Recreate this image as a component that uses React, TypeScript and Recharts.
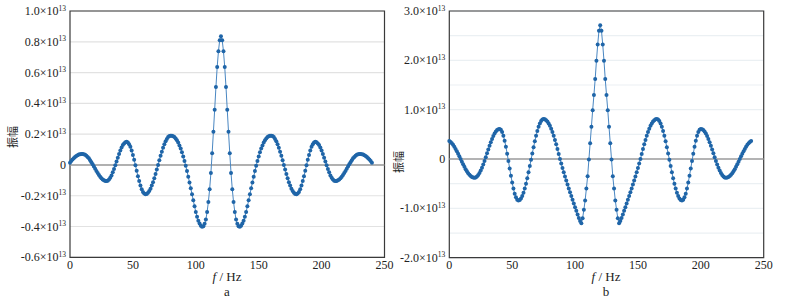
import React from 'react';
import {
  LineChart,
  Line,
  XAxis,
  YAxis,
  CartesianGrid,
  ReferenceLine,
  ReferenceArea,
} from 'recharts';

// spectra sampled every 1 Hz from 0 to 240 Hz, amplitude in units of 1e13
const FREQ_STEP_HZ = 1;
const freqTicks = [0, 50, 100, 150, 200, 250];
const ampTicksA = [-0.6, -0.4, -0.2, 0, 0.2, 0.4, 0.6, 0.8, 1.0];
const ampTicksB = [-2, -1.5, -1, -0.5, 0, 0.5, 1, 1.5, 2, 2.5, 3];
const ampLabelsB = [-2, -1, 0, 1, 2, 3];

const ampA = [
  0.015, 0.025, 0.035, 0.044, 0.052, 0.058, 0.063, 0.067, 0.069, 0.071,
  0.071, 0.070, 0.066, 0.060, 0.052, 0.043, 0.031, 0.018, 0.005, -0.010,
  -0.024, -0.039, -0.052, -0.065, -0.077, -0.086, -0.094, -0.100, -0.104, -0.105,
  -0.103, -0.095, -0.084, -0.068, -0.048, -0.026, -0.002, 0.023, 0.047, 0.071,
  0.093, 0.113, 0.129, 0.140, 0.148, 0.150, 0.146, 0.135, 0.118, 0.094,
  0.065, 0.033, -0.002, -0.038, -0.073, -0.105, -0.134, -0.158, -0.175, -0.186,
  -0.190, -0.188, -0.181, -0.169, -0.154, -0.134, -0.112, -0.086, -0.059, -0.030,
  0.000, 0.030, 0.059, 0.086, 0.112, 0.134, 0.154, 0.169, 0.181, 0.188,
  0.190, 0.190, 0.187, 0.181, 0.172, 0.160, 0.145, 0.127, 0.106, 0.082,
  0.055, 0.026, -0.005, -0.040, -0.077, -0.114, -0.152, -0.190, -0.230, -0.268,
  -0.305, -0.337, -0.362, -0.381, -0.395, -0.402, -0.398, -0.382, -0.355, -0.305,
  -0.240, -0.158, -0.052, 0.076, 0.215, 0.358, 0.506, 0.636, 0.738, 0.810,
  0.836,
  0.810, 0.738, 0.636, 0.506, 0.358, 0.215, 0.076, -0.052, -0.158, -0.240,
  -0.305, -0.355, -0.382, -0.398, -0.402, -0.395, -0.381, -0.362, -0.337, -0.305,
  -0.268, -0.230, -0.190, -0.152, -0.114, -0.077, -0.040, -0.005, 0.026, 0.055,
  0.082, 0.106, 0.127, 0.145, 0.160, 0.172, 0.181, 0.187, 0.190, 0.190,
  0.188, 0.181, 0.169, 0.154, 0.134, 0.112, 0.086, 0.059, 0.030, 0.000,
  -0.030, -0.059, -0.086, -0.112, -0.134, -0.154, -0.169, -0.181, -0.188, -0.190,
  -0.186, -0.175, -0.158, -0.134, -0.105, -0.073, -0.038, -0.002, 0.033, 0.065,
  0.094, 0.118, 0.135, 0.146, 0.150, 0.148, 0.140, 0.129, 0.113, 0.093,
  0.071, 0.047, 0.023, -0.002, -0.026, -0.048, -0.068, -0.084, -0.095, -0.103,
  -0.105, -0.104, -0.100, -0.094, -0.086, -0.077, -0.065, -0.052, -0.039, -0.024,
  -0.010, 0.005, 0.018, 0.031, 0.043, 0.052, 0.060, 0.066, 0.070, 0.071,
  0.071, 0.069, 0.067, 0.063, 0.058, 0.052, 0.044, 0.035, 0.025, 0.015,
];

const ampB = [
  0.365, 0.346, 0.320, 0.287, 0.249, 0.205, 0.158, 0.107, 0.054, 0.000,
  -0.054, -0.107, -0.158, -0.205, -0.249, -0.287, -0.320, -0.346, -0.365, -0.377,
  -0.380, -0.374, -0.356, -0.326, -0.285, -0.235, -0.176, -0.110, -0.038, 0.038,
  0.115, 0.192, 0.268, 0.340, 0.406, 0.465, 0.515, 0.556, 0.586, 0.604,
  0.610, 0.594, 0.547, 0.472, 0.370, 0.248, 0.109, -0.039, -0.191, -0.339,
  -0.478, -0.600, -0.702, -0.777, -0.824, -0.840, -0.830, -0.800, -0.750, -0.682,
  -0.598, -0.500, -0.390, -0.270, -0.144, -0.015, 0.114, 0.240, 0.360, 0.470,
  0.568, 0.652, 0.720, 0.770, 0.800, 0.810, 0.805, 0.788, 0.760, 0.722,
  0.673, 0.614, 0.546, 0.470, 0.387, 0.298, 0.203, 0.103, 0.000, -0.090,
  -0.180, -0.268, -0.354, -0.437, -0.518, -0.597, -0.674, -0.750, -0.825, -0.900,
  -0.975, -1.050, -1.125, -1.195, -1.255, -1.300, -1.200, -1.030, -0.840, -0.600,
  -0.350, -0.010, 0.320, 0.655, 0.990, 1.300, 1.620, 1.990, 2.320, 2.600,
  2.710,
  2.600, 2.320, 1.990, 1.620, 1.300, 0.990, 0.655, 0.320, -0.010, -0.350,
  -0.600, -0.840, -1.030, -1.200, -1.300, -1.255, -1.195, -1.125, -1.050, -0.975,
  -0.900, -0.825, -0.750, -0.674, -0.597, -0.518, -0.437, -0.354, -0.268, -0.180,
  -0.090, 0.000, 0.103, 0.203, 0.298, 0.387, 0.470, 0.546, 0.614, 0.673,
  0.722, 0.760, 0.788, 0.805, 0.810, 0.800, 0.770, 0.720, 0.652, 0.568,
  0.470, 0.360, 0.240, 0.114, -0.015, -0.144, -0.270, -0.390, -0.500, -0.598,
  -0.682, -0.750, -0.800, -0.830, -0.840, -0.824, -0.777, -0.702, -0.600, -0.478,
  -0.339, -0.191, -0.039, 0.109, 0.248, 0.370, 0.472, 0.547, 0.594, 0.610,
  0.604, 0.586, 0.556, 0.515, 0.465, 0.406, 0.340, 0.268, 0.192, 0.115,
  0.038, -0.038, -0.110, -0.176, -0.235, -0.285, -0.326, -0.356, -0.374, -0.380,
  -0.377, -0.365, -0.346, -0.320, -0.287, -0.249, -0.205, -0.158, -0.107, -0.054,
  0.000, 0.054, 0.107, 0.158, 0.205, 0.249, 0.287, 0.320, 0.346, 0.365,
];

const serif = { fontFamily: 'Liberation Serif, serif' };
const cjk = { fontFamily: 'Noto Sans CJK SC, sans-serif' };
const LINE_COLOR = '#4a87c2';
const DOT_COLOR = '#1f65a8';

const toRows = (values: number[]) => values.map((v, i) => ({ f: i * FREQ_STEP_HZ, amp: v }));

function YTick({ x, y, payload, labeled }: any) {
  const v = payload.value as number;
  if (labeled && !labeled.some((t: number) => Math.abs(t - v) < 1e-6)) return <g />;
  if (Math.abs(v) < 1e-9) {
    return (
      <text x={x} y={y + 4} textAnchor="end" style={serif} fontSize={12} fill="#222">
        0
      </text>
    );
  }
  return (
    <text x={x} y={y + 4} textAnchor="end" style={serif} fontSize={12} fill="#222">
      {v.toFixed(1)}×10
      <tspan dy={-4.5} fontSize={7.5}>
        13
      </tspan>
    </text>
  );
}

function XTick({ x, y, payload }: any) {
  return (
    <text x={x} y={y + 11.5} textAnchor="middle" style={serif} fontSize={12} fill="#222">
      {payload.value}
    </text>
  );
}

type PanelProps = {
  values: number[];
  yTicks: number[];
  yLabels?: number[];
  gridColor: string;
  margin: { top: number; right: number; bottom: number; left: number };
  left: number;
};

function Panel({ values, yTicks, yLabels, gridColor, margin, left }: PanelProps) {
  const yMin = yTicks[0];
  const yMax = yTicks[yTicks.length - 1];
  return (
    <div style={{ position: 'absolute', left, top: 0 }}>
      <LineChart width={400} height={301} data={toRows(values)} margin={margin}>
        <CartesianGrid vertical={false} stroke={gridColor} strokeWidth={1.2} />
        <XAxis
          dataKey="f"
          type="number"
          domain={[0, 250]}
          ticks={freqTicks}
          height={20}
          axisLine={false}
          tickLine={false}
          tickSize={0}
          tickMargin={0}
          tick={<XTick />}
        />
        <YAxis
          type="number"
          domain={[yMin, yMax]}
          ticks={yTicks}
          width={62}
          axisLine={false}
          tickLine={false}
          tickSize={0}
          tickMargin={4}
          interval={0}
          tick={<YTick labeled={yLabels} />}
        />
        <ReferenceLine y={0} stroke="#9c9c9c" strokeWidth={1.5} />
        <ReferenceArea x1={0} x2={250} y1={yMin} y2={yMax} fill="none" stroke="#3a3a3a" strokeWidth={1.2} />
        <Line
          type="linear"
          dataKey="amp"
          stroke={LINE_COLOR}
          strokeWidth={1}
          dot={{ r: 2, fill: DOT_COLOR, stroke: DOT_COLOR, strokeWidth: 0 }}
          isAnimationActive={false}
        />
      </LineChart>
    </div>
  );
}

export default function App() {
  return (
    <div style={{ position: 'absolute', left: 0, top: 0, width: 797, height: 301, background: '#fff' }}>
      <Panel
        values={ampA}
        yTicks={ampTicksA}
        gridColor="#e2e2e2"
        margin={{ top: 11, right: 15.5, bottom: 23.7, left: 8 }}
        left={0}
      />
      <Panel
        values={ampB}
        yTicks={ampTicksB}
        yLabels={ampLabelsB}
        gridColor="#ebf0f3"
        margin={{ top: 11, right: 16.3, bottom: 23.3, left: 7.3 }}
        left={380}
      />
      <svg
        width={797}
        height={301}
        style={{ position: 'absolute', left: 0, top: 0, pointerEvents: 'none' }}
      >
        <text transform="translate(17,137) rotate(-90)" textAnchor="middle" style={cjk} fontSize={11} fill="#222">
          振幅
        </text>
        <text transform="translate(403,162) rotate(-90)" textAnchor="middle" style={cjk} fontSize={11} fill="#222">
          振幅
        </text>
        <text x={227} y={281} textAnchor="middle" style={serif} fontSize={13} fill="#222">
          <tspan fontStyle="italic">f</tspan> / Hz
        </text>
        <text x={227} y={296} textAnchor="middle" style={serif} fontSize={13} fill="#222">
          a
        </text>
        <text x={606} y={281} textAnchor="middle" style={serif} fontSize={13} fill="#222">
          <tspan fontStyle="italic">f</tspan> / Hz
        </text>
        <text x={606} y={296} textAnchor="middle" style={serif} fontSize={13} fill="#222">
          b
        </text>
      </svg>
    </div>
  );
}
